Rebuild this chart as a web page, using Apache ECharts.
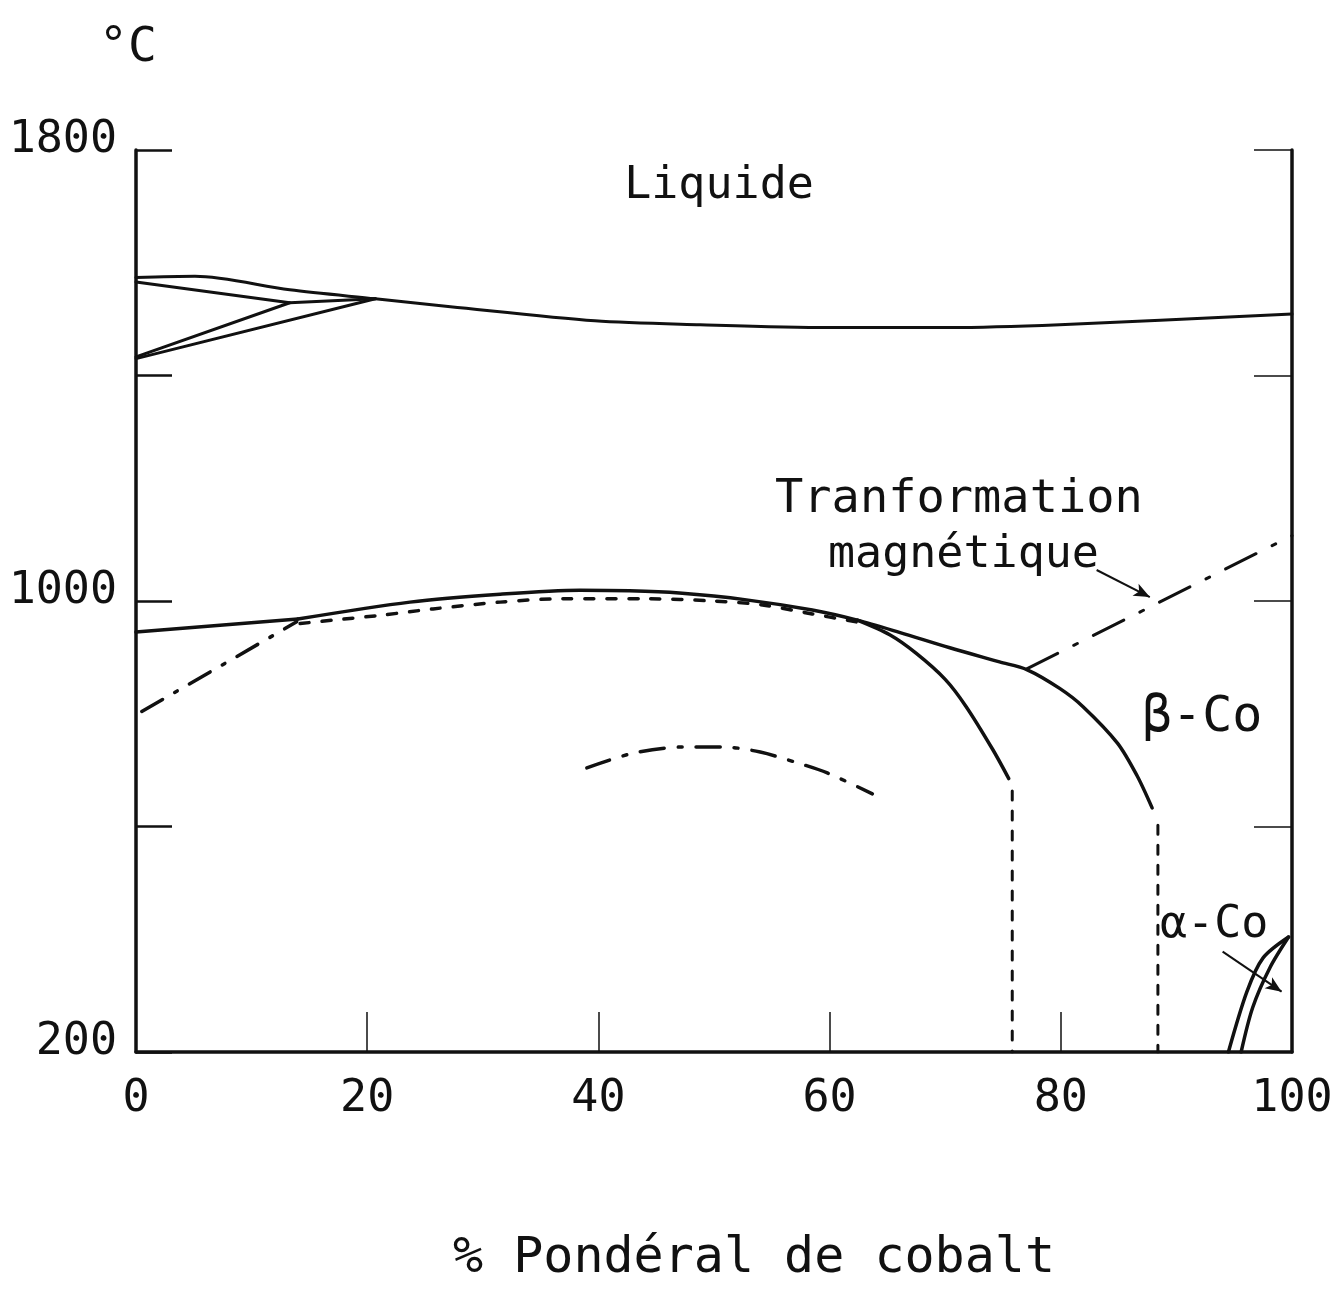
<!DOCTYPE html>
<html>
<head>
<meta charset="utf-8">
<script src="https://cdn.jsdelivr.net/npm/echarts@6/dist/echarts.min.js"></script>
<style>
html,body{margin:0;padding:0;background:#fff;}
#chart{width:1343px;height:1289px;}
</style>
</head>
<body>
<div id="chart"></div>
<script>
// ---- data (x = % pondéral de cobalt, y = °C) ----
const liquidus = [[0,1574],[5.1,1576],[13.3,1552],[20.7,1536],[27.2,1522],[39.7,1497],[48.8,1490],[59.9,1485],[70.4,1485],[79.9,1490],[100,1509]];
const periUpper = [[0,1566],[13.3,1529],[20.7,1536]];
const periLowA = [[0,1433],[13.3,1529]];
const periLowB = [[0,1430],[20.7,1536]];
const solidLeft = [[0,945],[14.0,968]];
const solidOuter = [[14.0,968],[23.7,998],[31.5,1012],[38.4,1019],[42.7,1018],[47.0,1014],[52.8,1002],[58.5,984],[62.4,966],[66.1,944],[70.4,917],[74.7,892],[77.1,878],[79.9,845],[81.9,813],[84.9,748],[86.6,690],[87.9,633]];
const solidInner = [[62.4,966],[65.2,940],[67.5,907],[70.0,861],[71.8,813],[74.1,737],[75.5,685]];
const dashedUnder = [[14.2,960],[17.0,966],[21.3,975],[25.7,986],[31.5,998],[36.9,1004],[44.2,1004],[49.9,1000],[54.2,993],[58.5,977],[62.3,963]];
const curieLeft = [[0.5,804],[13.9,963]];
const orderArc = [[39.0,704],[43.0,730],[47.3,741],[50.8,741],[54.0,732],[57.2,713],[59.8,695],[63.7,658]];
const magnetic = [[77.1,880],[100,1116]];
const vertDash1 = [[75.8,663],[75.8,200]];
const vertDash2 = [[88.4,602],[88.4,200]];
const alphaLeft = [[94.5,200],[96.1,307],[97.5,367],[99.7,404]];
const alphaRight = [[95.6,200],[96.6,279],[98.1,350],[99.7,404]];
const arrowMagnetic = [[83.1,1055],[87.7,1007]];
const arrowAlpha = [[94.0,378],[99.1,307]];
const xTickLabels = ['0','20','40','60','80','100'];
const yTickLabels = ['200','1000','1800'];

const FONT = '"DejaVu Sans Mono", "Liberation Mono", monospace';
const INK = '#111';

function lineSeries(name, data, type, smooth, width) {
  return {
    name: name, type: 'line', data: data, smooth: smooth || false,
    symbol: 'none', silent: true, animation: false,
    lineStyle: { color: INK, width: width || 3.5, type: type || 'solid', cap: 'round', join: 'round' }
  };
}
function arrowSeries(name, pts) {
  return {
    name: name, type: 'line', data: [], symbol: 'none', animation: false,
    markLine: {
      silent: true, animation: false, symbol: ['none', 'arrow'], symbolSize: [10, 16],
      label: { show: false },
      lineStyle: { color: INK, width: 2, type: 'solid' },
      data: [[{ coord: pts[0] }, { coord: pts[1] }]]
    }
  };
}

const chart = echarts.init(document.getElementById('chart'), null, { renderer: 'canvas' });
chart.setOption({
  backgroundColor: '#fff',
  animation: false,
  grid: { left: 136, right: 51, top: 150, bottom: 231, containLabel: false },
  xAxis: {
    type: 'value', min: 0, max: 100, interval: 20,
    name: '% Pondéral de cobalt', nameLocation: 'middle', nameGap: 182,
    nameTextStyle: { fontFamily: FONT, fontSize: 50, color: INK, padding: [0, 0, 0, 80] },
    axisLine: { show: true, onZero: false, lineStyle: { color: INK, width: 3.5 } },
    axisTick: { show: true, inside: true, length: 40, lineStyle: { color: INK, width: 1.5 } },
    axisLabel: { margin: 25, fontFamily: FONT, fontSize: 45, color: INK,
      formatter: function (v) { const s = String(v); return xTickLabels.indexOf(s) >= 0 ? s : ''; } },
    splitLine: { show: false }
  },
  yAxis: [{
    type: 'value', min: 200, max: 1800, interval: 400, position: 'left',
    name: '°C', nameLocation: 'end', nameGap: 77,
    nameTextStyle: { fontFamily: FONT, fontSize: 48, color: INK, padding: [0, 16, 0, 0] },
    axisLine: { show: true, onZero: false, lineStyle: { color: INK, width: 3.5 } },
    axisTick: { show: true, inside: true, length: 36, lineStyle: { color: INK, width: 2.5 } },
    axisLabel: { margin: 19, fontFamily: FONT, fontSize: 45, color: INK, verticalAlign: 'bottom', lineHeight: 20,
      formatter: function (v) { const s = String(v); return yTickLabels.indexOf(s) >= 0 ? s : ''; } },
    splitLine: { show: false }
  }, {
    type: 'value', min: 200, max: 1800, interval: 400, position: 'right',
    axisLine: { show: true, onZero: false, lineStyle: { color: INK, width: 3.5 } },
    axisTick: { show: true, inside: true, length: 38, lineStyle: { color: INK, width: 1.5 } },
    axisLabel: { show: false },
    splitLine: { show: false }
  }],
  series: [
    lineSeries('Liquidus', liquidus, 'solid', 0.3, 3),
    lineSeries('Péritectique haut', periUpper, 'solid', false, 3),
    lineSeries('Péritectique bas A', periLowA, 'solid', false, 3),
    lineSeries('Péritectique bas B', periLowB, 'solid', false, 3),
    lineSeries('Solvus gauche', solidLeft, 'solid', false, 3.5),
    lineSeries('Solvus', solidOuter, 'solid', 0.3, 3.5),
    lineSeries('Solvus intérieur', solidInner, 'solid', 0.3, 3.5),
    lineSeries('Tireté', dashedUnder, [9, 13], 0.3, 3.5),
    lineSeries('Curie gauche', curieLeft, [24, 14, 3, 14], false, 3.5),
    lineSeries('Ordre', orderArc, [24, 14, 4, 14], 0.3, 3.5),
    lineSeries('Transformation magnétique', magnetic, [34, 18, 4, 18], false, 3),
    lineSeries('Limite 1', vertDash1, [9, 11], false, 3),
    lineSeries('Limite 2', vertDash2, [9, 11], false, 3),
    lineSeries('α-Co gauche', alphaLeft, 'solid', 0.3, 3.5),
    lineSeries('α-Co droite', alphaRight, 'solid', 0.3, 3.5),
    arrowSeries('Flèche magnétique', arrowMagnetic),
    arrowSeries('Flèche α', arrowAlpha)
  ],
  graphic: [
    { type: 'text', x: 719, y: 186, silent: true,
      style: { text: 'Liquide', font: '45px ' + FONT, fill: INK, align: 'center', verticalAlign: 'middle', textAlign: 'center', textVerticalAlign: 'middle' } },
    { type: 'text', x: 775, y: 500, silent: true,
      style: { text: 'Tranformation', font: '47px ' + FONT, fill: INK, align: 'left', verticalAlign: 'middle', textAlign: 'left', textVerticalAlign: 'middle' } },
    { type: 'text', x: 828, y: 555, silent: true,
      style: { text: 'magnétique', font: '45px ' + FONT, fill: INK, align: 'left', verticalAlign: 'middle', textAlign: 'left', textVerticalAlign: 'middle' } },
    { type: 'text', x: 1142, y: 718, silent: true,
      style: { text: 'β-Co', font: '50px ' + FONT, fill: INK, align: 'left', verticalAlign: 'middle', textAlign: 'left', textVerticalAlign: 'middle' } },
    { type: 'text', x: 1160, y: 925, silent: true,
      style: { text: 'α-Co', font: '45px ' + FONT, fill: INK, align: 'left', verticalAlign: 'middle', textAlign: 'left', textVerticalAlign: 'middle' } }
  ]
});
</script>
</body>
</html>
